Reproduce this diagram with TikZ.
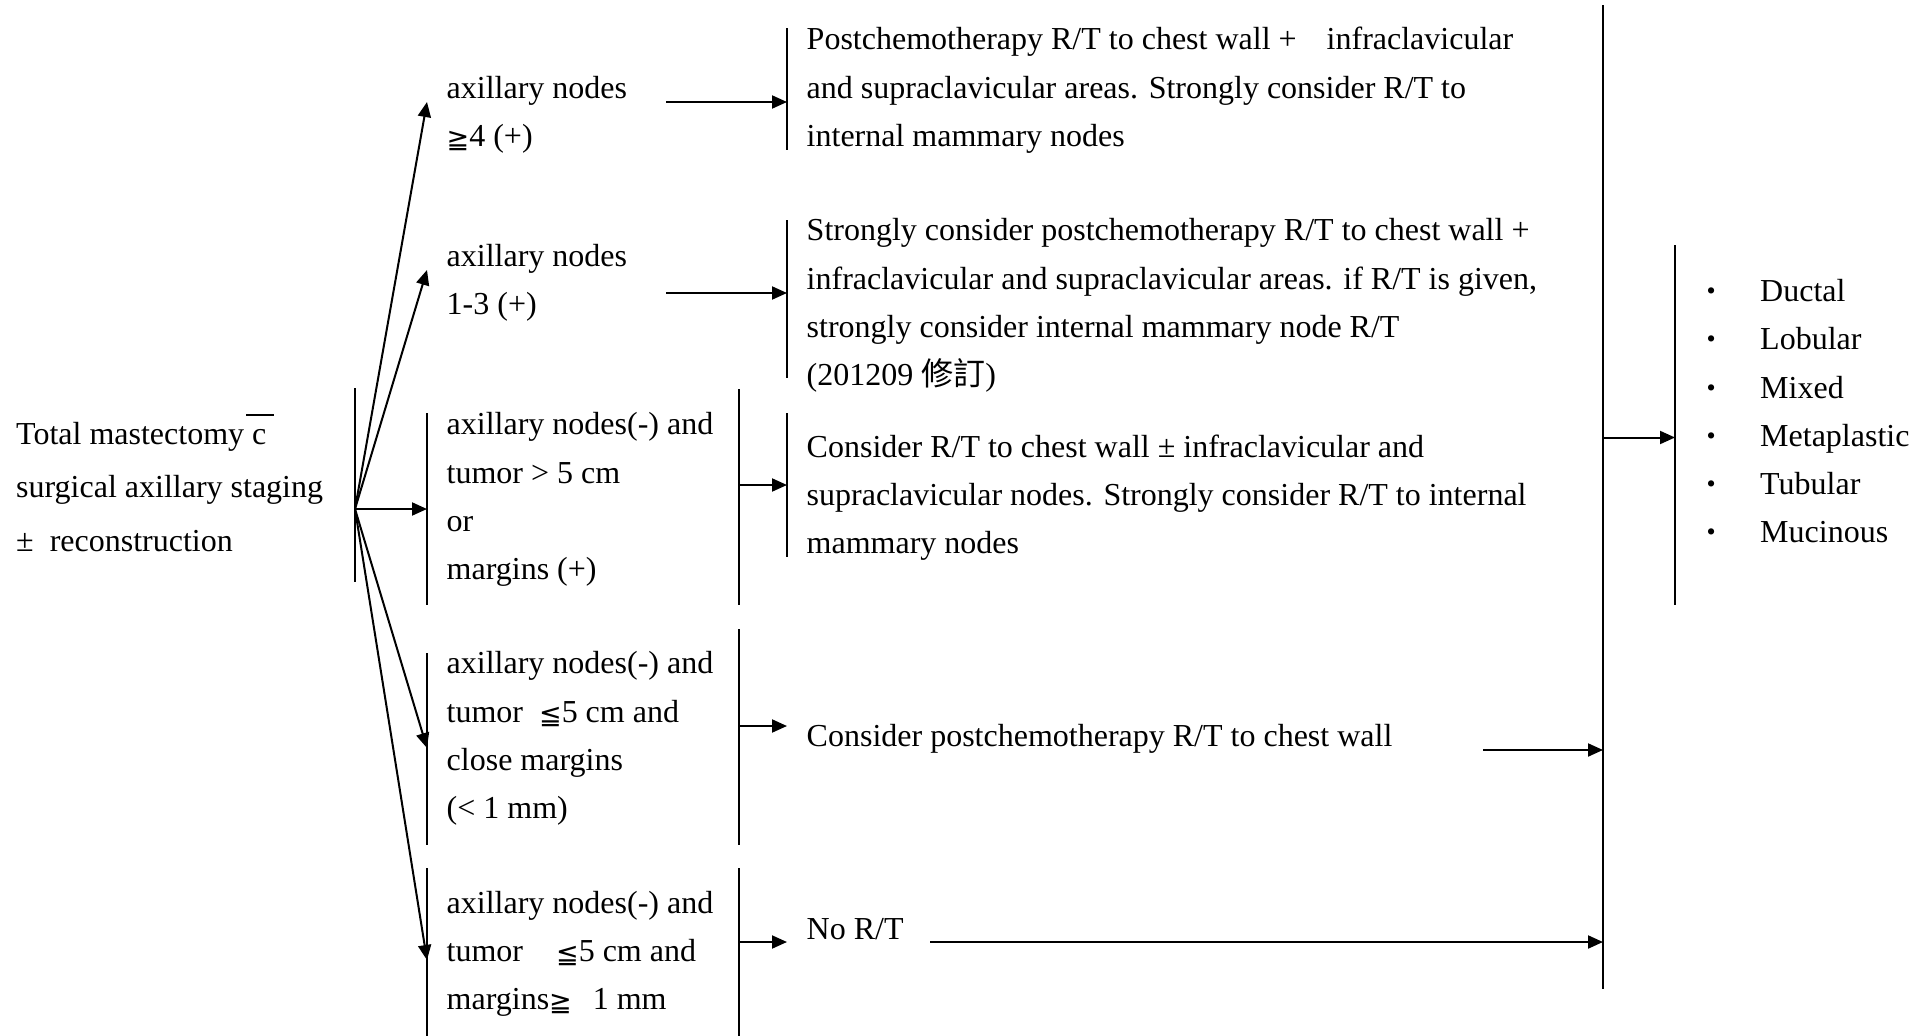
\documentclass[tikz,border=0pt]{standalone}
\usepackage{fontspec}
\setmainfont{Liberation Serif}
\newfontfamily\cjk{Noto Sans CJK TC}
\newfontfamily\symf{DejaVu Sans}
\usetikzlibrary{arrows.meta}
\tikzset{
  txt/.style={anchor=west, inner sep=0pt, align=left, font=\fontsize{32}{48.3}\selectfont},
  bar/.style={line width=2pt},
  arr/.style={line width=2pt, -{Triangle[length=15pt,width=13pt]}},
}
\newcommand{\bul}{\makebox[22pt][c]{\raisebox{2pt}{\fontsize{26}{26}\selectfont •}}\hspace{38pt}}
\newcommand{\geqq}{\raisebox{-2pt}{\symf\fontsize{27}{27}\selectfont ≧}}
\newcommand{\leqq}{\raisebox{-2pt}{\symf\fontsize{27}{27}\selectfont ≦}}
\begin{document}
\begin{tikzpicture}[x=1pt,y=-1pt]
\path[fill=white,use as bounding box] (0,0) rectangle (1928,1036);

% ---- start
\node[txt, font=\fontsize{32}{53.5}\selectfont] (start) at (16,487)
  {\strut Total mastectomy \makebox[0pt][l]{\hspace{-6pt}\rule[28pt]{28pt}{2pt}}c\\
   \strut surgical axillary staging\\
   \strut ±\ \ reconstruction};
\coordinate (lbT) at (355,388);
\coordinate (lbB) at (355,582);
\coordinate (fan) at (355,509);
\draw[bar] (lbT) -- (lbB);

% ---- condition nodes
\node[txt] (n1) at (446.5,113) {\strut axillary nodes\\\strut \geqq4 (+)};
\node[txt] (n2) at (446.5,281) {\strut axillary nodes\\\strut 1-3 (+)};
\node[txt] (n3) at (446.5,497.5) {\strut axillary nodes(-) and\\\strut tumor > 5 cm\\\strut or\\\strut margins (+)};
\node[txt] (n4) at (446.5,736.7) {\strut axillary nodes(-) and\\\strut tumor\hspace{16pt}\leqq5 cm and\\\strut close margins\\\strut (< 1 mm)};
\node[txt] (n5) at (446.5,952) {\strut axillary nodes(-) and\\\strut tumor\hspace{33pt}\leqq5 cm and\\\strut margins\geqq\hspace{21pt}1 mm};

% fan tips
\coordinate (t1) at (427,102);
\coordinate (t2) at (427,270);
\coordinate (t3) at (427,509);
\coordinate (t4) at (427,748);
\coordinate (t5) at (427,960);
\draw[arr] (fan) -- (t1);
\draw[arr] (fan) -- (t2);
\draw[arr] (fan) -- (t3);
\draw[arr] (fan) -- (t4);
\draw[arr] (fan) -- (t5);

% box bars
\draw[bar] (427,413) coordinate (b3lt) -- (427,605) coordinate (b3lb);
\draw[bar] (739,389) coordinate (b3rt) -- (739,605) coordinate (b3rb);
\draw[bar] (427,653) coordinate (b4lt) -- (427,845) coordinate (b4lb);
\draw[bar] (739,629) coordinate (b4rt) -- (739,845) coordinate (b4rb);
\draw[bar] (427,868) coordinate (b5lt) -- (427,1036) coordinate (b5lb);
\draw[bar] (739,868) coordinate (b5rt) -- (739,1036) coordinate (b5rb);

% ---- result nodes
\node[txt] (r1) at (806.5,88.5) {\strut Postchemotherapy R/T to chest wall +\hspace{30pt}infraclavicular\\
  \strut and supraclavicular areas. Strongly consider R/T to\\
  \strut internal mammary nodes};
\node[txt] (r2) at (806.5,303.5) {\strut Strongly consider postchemotherapy R/T to chest wall +\\
  \strut infraclavicular and supraclavicular areas. if R/T is given,\\
  \strut strongly consider internal mammary node R/T\\
  \strut (201209 {\cjk 修訂})};
\node[txt] (r3) at (806.5,496) {\strut Consider R/T to chest wall ± infraclavicular and\\
  \strut supraclavicular nodes. Strongly consider R/T to internal\\
  \strut mammary nodes};
\node[txt] (r4) at (806.5,736.7) {\strut Consider postchemotherapy R/T to chest wall};
\node[txt] (r5) at (806.5,930) {\strut No R/T};

\draw[bar] (787,28) coordinate (r1t) -- (787,150) coordinate (r1b);
\draw[bar] (787,220) coordinate (r2t) -- (787,378) coordinate (r2b);
\draw[bar] (787,413) coordinate (r3t) -- (787,557) coordinate (r3b);

% arrows condition -> result
\coordinate (a1s) at (666,102);  \coordinate (a1e) at (787,102);
\coordinate (a2s) at (666,293);  \coordinate (a2e) at (787,293);
\coordinate (a3s) at (739,485);  \coordinate (a3e) at (787,485);
\coordinate (a4s) at (739,726);  \coordinate (a4e) at (787,726);
\coordinate (a5s) at (739,942);  \coordinate (a5e) at (787,942);
\draw[arr] (a1s) -- (a1e);
\draw[arr] (a2s) -- (a2e);
\draw[arr] (a3s) -- (a3e);
\draw[arr] (a4s) -- (a4e);
\draw[arr] (a5s) -- (a5e);

% big collector bar
\coordinate (bigT) at (1603,5);
\coordinate (bigB) at (1603,989);
\draw[bar] (bigT) -- (bigB);
\coordinate (r4s) at (1483,750); \coordinate (r4e) at (1603,750);
\coordinate (r5s) at (930,942);  \coordinate (r5e) at (1603,942);
\draw[arr] (r4s) -- (r4e);
\draw[arr] (r5s) -- (r5e);

% list
\coordinate (ls) at (1603,437.5); \coordinate (le) at (1675,437.5);
\draw[arr] (ls) -- (le);
\draw[bar] (1675,245) coordinate (lt) -- (1675,605) coordinate (lb);
\node[txt] (types) at (1700,412.5) {\strut\bul Ductal\\\strut\bul Lobular\\\strut\bul Mixed\\\strut\bul Metaplastic\\\strut\bul Tubular\\\strut\bul Mucinous};
\end{tikzpicture}
\end{document}
